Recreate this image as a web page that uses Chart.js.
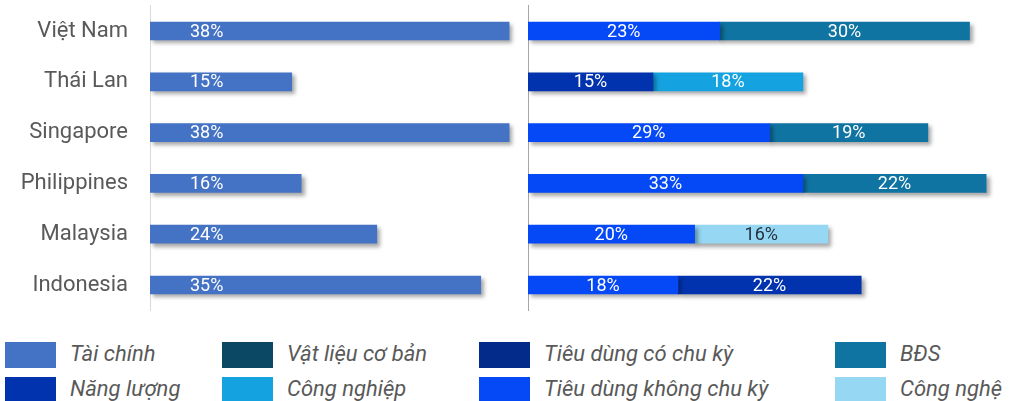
<!DOCTYPE html>
<html>
<head>
<meta charset="utf-8">
<script src="https://cdn.jsdelivr.net/npm/chart.js@4.4.0/dist/chart.umd.min.js"></script>
<style>
  body { margin: 0; background: #fff; width: 1009px; height: 401px; overflow: hidden; position: relative; font-family: Roboto, sans-serif; }
  #leftWrap { position: absolute; left: 0; top: 0; width: 520px; height: 316px; }
  #rightWrap { position: absolute; left: 520px; top: 0; width: 489px; height: 316px; }
  .lg { position: absolute; display: flex; align-items: center; height: 26px; }
  .lg span.box { width: 51px; height: 26px; margin-right: 14px; }
  .lg span.txt { font: italic 22px Roboto, sans-serif; color: #595959; white-space: nowrap; position: relative; top: -2px; }
</style>
</head>
<body>
<div id="leftWrap"><canvas id="chartLeft"></canvas></div>
<div id="rightWrap"><canvas id="chartRight"></canvas></div>
<div id="legend"></div>
<script>
// du lieu
const categories = ["Việt Nam", "Thái Lan", "Singapore", "Philippines", "Malaysia", "Indonesia"];
const taiChinh = [38, 15, 38, 16, 24, 35];
const tieuDungKhongChuKy = [23, null, 29, 33, 20, 18];
const nangLuong = [null, 15, null, null, null, 22];
const congNghiep = [null, 18, null, null, null, null];
const bds = [30, null, 19, 22, null, null];
const congNghe = [null, null, null, null, 16, null];
const vatLieuCoBan = [null, null, null, null, null, null];
const tieuDungCoChuKy = [null, null, null, null, null, null];

const colors = {
    "Tài chính": "#4472C4",
    "Năng lượng": "#0233AE",
    "Vật liệu cơ bản": "#0B4863",
    "Công nghiệp": "#14A3E0",
    "Tiêu dùng có chu kỳ": "#022B8A",
    "Tiêu dùng không chu kỳ": "#0548F5",
    "BĐS": "#1074A2",
    "Công nghệ": "#96D7F3",
};

// bong do cho cac thanh
const shadow = {
    id: "shadow",
    beforeDatasetsDraw(chart) {
        const c = chart.ctx;
        c.save();
        c.shadowColor = "rgba(0,0,0,0.35)";
        c.shadowBlur = 4;
        c.shadowOffsetX = 3;
        c.shadowOffsetY = 3;
    },
    afterDatasetsDraw(chart) {
        chart.ctx.restore();
    },
};

// nhan % tren thanh
const barLabels = {
    id: "barLabels",
    afterDatasetsDraw(chart, args, opts) {
        const ctx = chart.ctx;
        ctx.save();
        ctx.font = "18px Roboto";
        ctx.textBaseline = "middle";
        chart.data.datasets.forEach((ds, i) => {
            chart.getDatasetMeta(i).data.forEach((bar, j) => {
                const v = ds.data[j];
                if (v == null) return;
                ctx.fillStyle = ds.labelColor || "#fff";
                if (opts.atStart) {
                    ctx.textAlign = "left";
                    ctx.fillText(v + "%", bar.base + 40, bar.y + 1);
                } else {
                    ctx.textAlign = "center";
                    ctx.fillText(v + "%", (bar.base + bar.x) / 2, bar.y + 1);
                }
            });
        });
        ctx.restore();
    },
};

function makeDs(label, data, extra) {
    return Object.assign({
        label: label,
        data: data,
        backgroundColor: colors[label],
        barThickness: 18,
        borderWidth: 0,
    }, extra || {});
}

function baseOptions(xMax, yWidth, showLabels, borderColor, atStart) {
    return {
        indexAxis: "y",
        responsive: true,
        maintainAspectRatio: false,
        animation: false,
        layout: { padding: { top: 5.6, bottom: 5.6, left: 0, right: 0 } },
        scales: {
            x: { display: false, min: 0, max: xMax, stacked: true },
            y: {
                stacked: true,
                afterFit: (s) => {
                    s.width = yWidth;
                    s.paddingTop = 0;
                    s.paddingBottom = 0;
                },
                grid: { display: false, drawTicks: false },
                border: { display: true, color: borderColor, width: 1 },
                ticks: {
                    display: showLabels,
                    padding: 22,
                    color: "#595959",
                    font: { family: "Roboto", size: 22 },
                },
            },
        },
        plugins: {
            legend: { display: false },
            tooltip: { enabled: false },
            barLabels: { atStart: atStart },
        },
    };
}

new Chart(document.getElementById("chartLeft"), {
    type: "bar",
    data: {
        labels: categories,
        datasets: [makeDs("Tài chính", taiChinh)],
    },
    options: baseOptions(39.15, 150, true, "#d9d9d9", true),
    plugins: [shadow, barLabels],
});

new Chart(document.getElementById("chartRight"), {
    type: "bar",
    data: {
        labels: categories,
        datasets: [
            makeDs("Tiêu dùng không chu kỳ", tieuDungKhongChuKy),
            makeDs("Năng lượng", nangLuong),
            makeDs("Công nghiệp", congNghiep),
            makeDs("BĐS", bds),
            makeDs("Công nghệ", congNghe, { labelColor: "#262f3f" }),
            makeDs("Vật liệu cơ bản", vatLieuCoBan),
            makeDs("Tiêu dùng có chu kỳ", tieuDungCoChuKy),
        ],
    },
    options: baseOptions(57.74, 8, false, "#a6a6a6", false),
    plugins: [shadow, barLabels],
});

// chu thich
const legendCols = [
    ["Tài chính", "Năng lượng"],
    ["Vật liệu cơ bản", "Công nghiệp"],
    ["Tiêu dùng có chu kỳ", "Tiêu dùng không chu kỳ"],
    ["BĐS", "Công nghệ"],
];
const colX = [5, 222, 479, 835];
const rowY = [342, 377];
const legend = document.getElementById("legend");
legendCols.forEach((col, ci) => {
    col.forEach((name, ri) => {
        const d = document.createElement("div");
        d.className = "lg";
        d.style.left = colX[ci] + "px";
        d.style.top = rowY[ri] + "px";
        d.innerHTML = '<span class="box" style="background:' + colors[name] + '"></span><span class="txt">' + name + "</span>";
        legend.appendChild(d);
    });
});
</script>
</body>
</html>
